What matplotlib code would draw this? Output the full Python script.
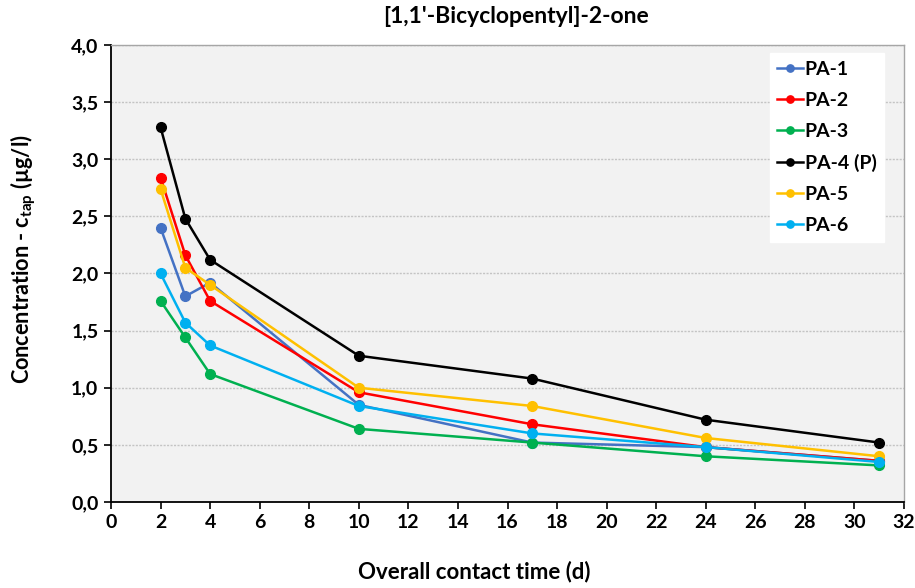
import matplotlib
matplotlib.use("Agg")
import matplotlib.pyplot as plt
from matplotlib.ticker import FuncFormatter, MultipleLocator

plt.rcParams['font.family'] = ['Lato', 'DejaVu Sans']
plt.rcParams['font.weight'] = 'bold'
plt.rcParams['mathtext.fontset'] = 'custom'
plt.rcParams['mathtext.rm'] = 'Lato'
plt.rcParams['mathtext.bf'] = 'Lato:bold'

days = [2, 3, 4, 10, 17, 24, 31]
pa1 = [2.40, 1.80, 1.92, 0.85, 0.52, 0.48, 0.36]
pa2 = [2.84, 2.16, 1.76, 0.96, 0.68, 0.48, 0.36]
pa3 = [1.76, 1.44, 1.12, 0.64, 0.52, 0.40, 0.32]
pa4 = [3.28, 2.48, 2.12, 1.28, 1.08, 0.72, 0.52]
pa5 = [2.74, 2.05, 1.90, 1.00, 0.84, 0.56, 0.40]
pa6 = [2.00, 1.57, 1.37, 0.84, 0.60, 0.48, 0.35]

series = [
    ("PA-1", pa1, "#4472C4"),
    ("PA-2", pa2, "#FF0000"),
    ("PA-3", pa3, "#00B050"),
    ("PA-4 (P)", pa4, "#000000"),
    ("PA-5", pa5, "#FFC000"),
    ("PA-6", pa6, "#00B0F0"),
]

fig = plt.figure(figsize=(9.15, 5.88), dpi=100)
ax = fig.add_axes([0.1213, 0.1463, 0.8667, 0.7772])
ax.set_facecolor("#f2f2f2")

for name, vals, col in series:
    ax.plot(days, vals, color=col, lw=1.8, marker="o", ms=7, label=name)

ax.set_xlim(0, 32)
ax.set_ylim(0, 4.0)
ax.xaxis.set_major_locator(MultipleLocator(2))
ax.yaxis.set_major_locator(MultipleLocator(0.5))
ax.yaxis.set_major_formatter(FuncFormatter(lambda v, p: f"{v:.1f}".replace(".", ",")))
ax.grid(axis="y", color="#c4c4c4", lw=1.0, ls=(0, (1.5, 1)))
ax.set_axisbelow(True)

for s in ("left", "bottom"):
    ax.spines[s].set_color("black")
    ax.spines[s].set_linewidth(1.3)
for s in ("top", "right"):
    ax.spines[s].set_color("#a6a6a6")
    ax.spines[s].set_linewidth(1.0)

ax.tick_params(axis="both", direction="out", length=5, width=1.2, labelsize=14, pad=4)
for lab in ax.get_xticklabels() + ax.get_yticklabels():
    lab.set_fontweight("bold")

title = ax.set_title("[1,1'-Bicyclopentyl]-2-one", fontsize=16.5, fontweight="bold",
                     x=0.511, y=1.063, va="center", pad=0)
ax.set_xlabel("Overall contact time (d)", fontsize=16, fontweight="bold")
ax.xaxis.set_label_coords(0.458, -0.153)
ax.xaxis.label.set_verticalalignment("center")
ax.set_ylabel(r"Concentration - c$_{\mathbf{tap}}$ (µg/l)", fontsize=13.5, fontweight="bold")
ax.yaxis.set_label_coords(-0.111, 0.532)
ax.yaxis.label.set_verticalalignment("center")

# size the titles so that they span the intended pixel lengths
targets = [(title, 268, "w"), (ax.xaxis.label, 232, "w"), (ax.yaxis.label, 250, "h")]
for _ in range(2):
    fig.canvas.draw()
    r = fig.canvas.get_renderer()
    for txt, length, dim in targets:
        bb = txt.get_window_extent(r)
        cur = bb.width if dim == "w" else bb.height
        txt.set_fontsize(txt.get_fontsize() * length / cur)

leg = ax.legend(loc="upper right", bbox_to_anchor=(0.975, 0.9825), borderaxespad=0,
                frameon=True, fancybox=False,
                facecolor="white", edgecolor="white", framealpha=1.0, fontsize=14,
                handlelength=1.3, handletextpad=0.1, labelspacing=0.72, markerscale=0.75,
                borderpad=0.4)
for t in leg.get_texts():
    t.set_fontweight("bold")

fig.savefig("out.png", dpi=100)
